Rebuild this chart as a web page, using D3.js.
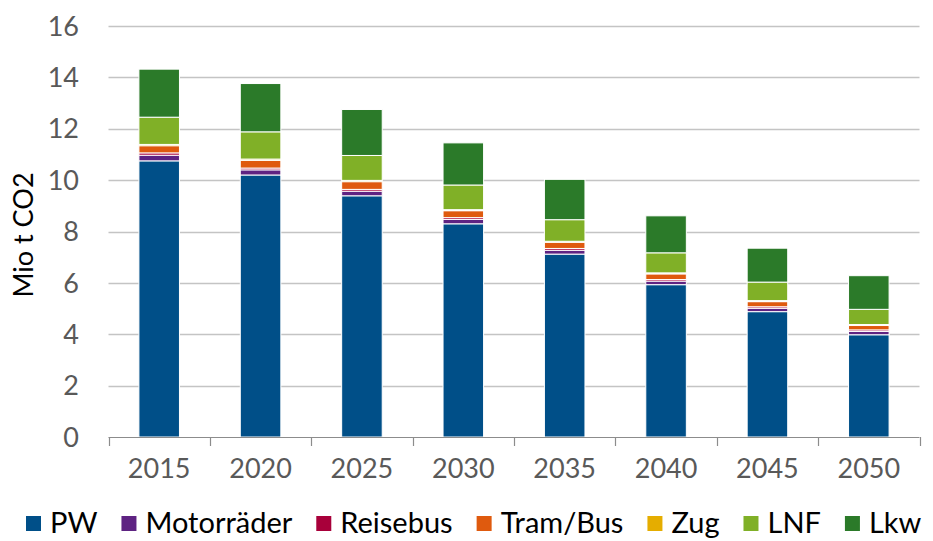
<!DOCTYPE html>
<html><head><meta charset="utf-8">
<script src="https://cdn.jsdelivr.net/npm/d3@7"></script>
<style>
html,body{margin:0;padding:0;background:#fff;}
svg text{font-family:Lato,"Open Sans",sans-serif;}
</style></head>
<body><svg id="chart" width="933" height="541"></svg>
<script>
const years = ["2015","2020","2025","2030","2035","2040","2045","2050"];
const seriesNames = ["PW","Motorräder","Reisebus","Tram/Bus","Zug","LNF","Lkw"];
const PW         = [10.75,10.20,9.39,8.30,7.12,5.93,4.88,3.98];
const Motorraeder= [0.22,0.20,0.18,0.17,0.15,0.14,0.13,0.13];
const Reisebus   = [0.09,0.07,0.07,0.07,0.07,0.06,0.06,0.06];
const TramBus    = [0.28,0.30,0.30,0.27,0.24,0.22,0.20,0.17];
const Zug        = [0.05,0.05,0.05,0.04,0.04,0.04,0.04,0.04];
const LNF        = [1.06,1.06,0.97,0.96,0.84,0.78,0.72,0.59];
const Lkw        = [1.87,1.88,1.79,1.64,1.57,1.44,1.32,1.31];
const yTicks = [0,2,4,6,8,10,12,14,16];
const colors = ["#004f88","#5e2382","#a8003a","#df5a0e","#e5ad00","#80b027","#2b7a29"];

(function(){
const seriesVals = [PW,Motorraeder,Reisebus,TramBus,Zug,LNF,Lkw];
const rows = years.map((yr,i)=>{const r={year:yr}; seriesNames.forEach((s,j)=>r[s]=seriesVals[j][i]); return r;});
const stacked = d3.stack().keys(seriesNames)(rows);

const svg = d3.select("#chart");
const pL=108.5, pR=919.5, pT=26, pB=437;
const x = d3.scaleBand().domain(years).range([pL,pR]).paddingInner(0.6).paddingOuter(0.3);
const y = d3.scaleLinear().domain([0,16]).range([pB,pT]);

svg.append("g").selectAll("line").data(yTicks.filter(t=>t>0)).join("line")
  .attr("x1",pL).attr("x2",pR)
  .attr("y1",d=>Math.round(y(d))+0.5).attr("y2",d=>Math.round(y(d))+0.5)
  .attr("stroke","#c4c4c4").attr("stroke-width",1.3);

svg.append("g").selectAll("text").data(yTicks).join("text")
  .attr("x",79).attr("y",d=>y(d)).attr("dy","0.36em")
  .attr("text-anchor","end").attr("font-size",27).attr("fill","#595959")
  .text(d=>d);

svg.append("g").selectAll("g").data(stacked).join("g")
  .attr("fill",(d,i)=>colors[i])
  .selectAll("rect").data(d=>d).join("rect")
  .attr("x",d=>x(d.data.year)).attr("width",x.bandwidth())
  .attr("y",d=>y(d[1])).attr("height",d=>Math.max(0,y(d[0])-y(d[1])))
  .attr("stroke","#fff").attr("stroke-width",1);

const step = x.step();
const ax = svg.append("g");
ax.append("line").attr("x1",pL).attr("x2",pR).attr("y1",pB+0.5).attr("y2",pB+0.5)
  .attr("stroke","#8c8c8c").attr("stroke-width",1.2);
ax.selectAll("line.t").data(d3.range(years.length+1)).join("line").attr("class","t")
  .attr("x1",i=>Math.round(pL+i*step)+0.5).attr("x2",i=>Math.round(pL+i*step)+0.5)
  .attr("y1",pB).attr("y2",pB+9)
  .attr("stroke","#8c8c8c").attr("stroke-width",1.2);
ax.selectAll("text").data(years).join("text")
  .attr("x",d=>x(d)+x.bandwidth()/2).attr("y",478)
  .attr("text-anchor","middle").attr("font-size",27).attr("fill","#595959").text(d=>d);

svg.append("text").attr("transform","translate(33,235) rotate(-90)")
  .attr("text-anchor","middle").attr("font-size",27).attr("fill","#000").text("Mio t CO2");

const lg = svg.append("g");
let cx = 26;
seriesNames.forEach((s,i)=>{
  lg.append("rect").attr("x",cx).attr("y",516).attr("width",15).attr("height",15).attr("fill",colors[i]);
  const t = lg.append("text").attr("x",cx+24).attr("y",533).attr("font-size",29).attr("fill","#000").text(s);
  const w = t.node().getComputedTextLength();
  cx += 24 + w + 24;
});
})();
</script></body></html>
